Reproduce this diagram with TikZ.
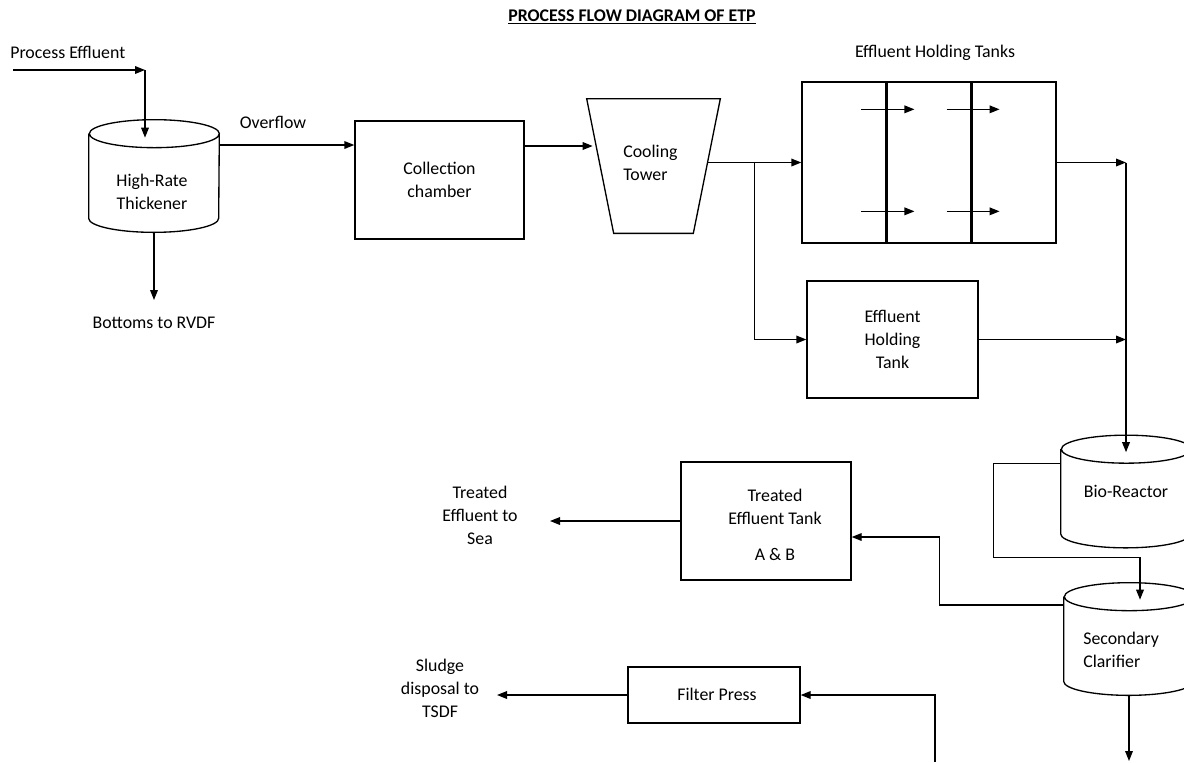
\documentclass[tikz,border=0pt]{standalone}
\usepackage{fontspec}
\setmainfont{Carlito}
\usetikzlibrary{arrows.meta,calc}

\tikzset{
  flow/.style={draw, line width=0.8pt, -{Triangle[length=6pt,width=4.6pt]}},
  unit/.style={draw, line width=0.8pt, rectangle, align=center, inner sep=0pt},
  vessel/.style={rectangle, minimum width=78pt, minimum height=67.2pt, inner sep=0pt, align=center},
  lbl/.style={align=center, inner sep=0pt},
}
% cylinder outline round a vessel node
\newcommand\drawvessel[1]{%
  \draw[line width=0.8pt] ([yshift=-8.4pt]#1.north west) -- ([yshift=8.4pt]#1.south west)
    arc[start angle=180, end angle=360, x radius=39pt, y radius=8.4pt]
    -- ([yshift=-8.4pt]#1.north east)
    arc[start angle=0, end angle=360, x radius=39pt, y radius=8.4pt];
}

\begin{document}
\begin{tikzpicture}[x=0.6pt,y=-0.6pt,font=\fontsize{10.7}{13.8}\selectfont]
\useasboundingbox (0,0) rectangle (1184,762);

\node[font=\fontsize{10.7}{13.8}\selectfont\bfseries] (title) at (632,17) {\underline{PROCESS FLOW DIAGRAM OF ETP}};

% thickener
\node[lbl, anchor=west] (pelbl) at (10,52) {Process Effluent};
\coordinate (pe) at (13,70);
\coordinate (pejoin) at (145,70);
\node[vessel] (thick) at (154,176) {};
\drawvessel{thick}
\node[lbl] at (152,191.5) {High-Rate\\Thickener};
\node[lbl] (bot) at (154,323) {Bottoms to RVDF};
\coordinate (botend) at (154,300);

\draw[flow] (pe) -- (pejoin);
\draw[flow, shorten >=-10.8pt] (pejoin) -- (pejoin |- thick.north);
\draw[flow] (thick.south) -- (thick.south |- botend);

% collection + cooling
\node[unit, minimum width=101.4pt, minimum height=70.8pt] (cc) at (439.5,180) {Collection\\chamber};
\node[lbl] (ovlbl) at (273,122) {Overflow};
\node[rectangle, minimum width=79.8pt, minimum height=80.4pt, inner sep=0pt] (tower) at (653.5,166) {};
\draw[line width=0.8pt] (tower.north west) -- (tower.north east) -- ([xshift=-16.2pt]tower.south east)
  -- ([xshift=16.2pt]tower.south west) -- cycle;
\node[lbl, align=left, anchor=west] at (623,162.5) {Cooling\\Tower};

\draw[flow] ([yshift=18.6pt]thick.east) coordinate (ov) -- (ov -| cc.west);
\draw[flow, shorten >=-3.6pt] ([yshift=20.4pt]cc.east) coordinate (ct) -- (ct -| tower.west);

% holding tanks
\node[lbl] (htlbl) at (935,53) {Effluent Holding Tanks};
\node[unit, minimum width=152.4pt, minimum height=96.6pt] (ht) at (929,162.5) {};
\foreach \f in {1/3,2/3}{
  \draw[line width=1.8pt] ($(ht.north west)!\f!(ht.north east)$) -- ($(ht.south west)!\f!(ht.south east)$);
  \foreach \r in {28,130}
    \draw[flow] ($(ht.north west)!\f!(ht.north east) + (-25,\r)$) -- ++(53,0);
}
\node[unit, minimum width=102.6pt, minimum height=70.2pt] (eht) at (892.5,339.5) {Effluent\\Holding\\Tank};

\draw[flow, shorten <=-7.8pt] (tower.east |- ht.west) -- (ht.west);
\coordinate (br) at ($(tower.east |- ht.west)!0.42!(ht.west)$);
\draw[flow] (br) |- (eht.west);

% biological treatment
\node[vessel] (bio) at (1126,491.5) {Bio-Reactor};
\drawvessel{bio}
\node[vessel] (sc) at (1129,639) {};
\drawvessel{sc}
\node[lbl, align=left, anchor=west] at (1083,650) {Secondary\\Clarifier};

\draw[flow] (ht.east) -- (ht.east -| bio.north);
\draw[flow, shorten >=-10.2pt] (ht.east -| bio.north) -- (bio.north);
\draw[flow] (eht.east) -- (eht.east -| bio.north);
\draw[flow] ([yshift=16.8pt]bio.west) -- ++(-67,0) -- ++(0,94) -| ([xshift=6.6pt,yshift=-10.2pt]sc.north);

% outlets
\node[unit, minimum width=102pt, minimum height=70.8pt] (tet) at (766,521) {};
\node[lbl] at (775,524.5) {Treated\\Effluent Tank\\[7.8pt]A \& B};
\node[lbl] (sea) at (480,515) {Treated\\Effluent to\\Sea};
\coordinate (seaend) at (550,519);
\node[unit, minimum width=103.2pt, minimum height=33.6pt] (fp) at (714,695) {};
\node[lbl] at (717,694) {Filter Press};
\node[lbl] (sludge) at (440,688) {Sludge\\disposal to\\TSDF};
\coordinate (sludgeend) at (497,692);
\coordinate (fpin) at (935,762);
\coordinate (scout) at (1131,761);

\draw[flow] ([yshift=20.4pt]sc.west) -- ++(-124,0) |- ([yshift=-9.6pt]tet.east);
\draw[flow] (tet.west) -- (tet.west -| seaend);
\draw[flow] (fpin) |- (fp.east);
\draw[flow] (fp.west) -- (fp.west -| sludgeend);
\draw[flow] (sc.south) -- (sc.south |- scout);
\end{tikzpicture}
\end{document}
